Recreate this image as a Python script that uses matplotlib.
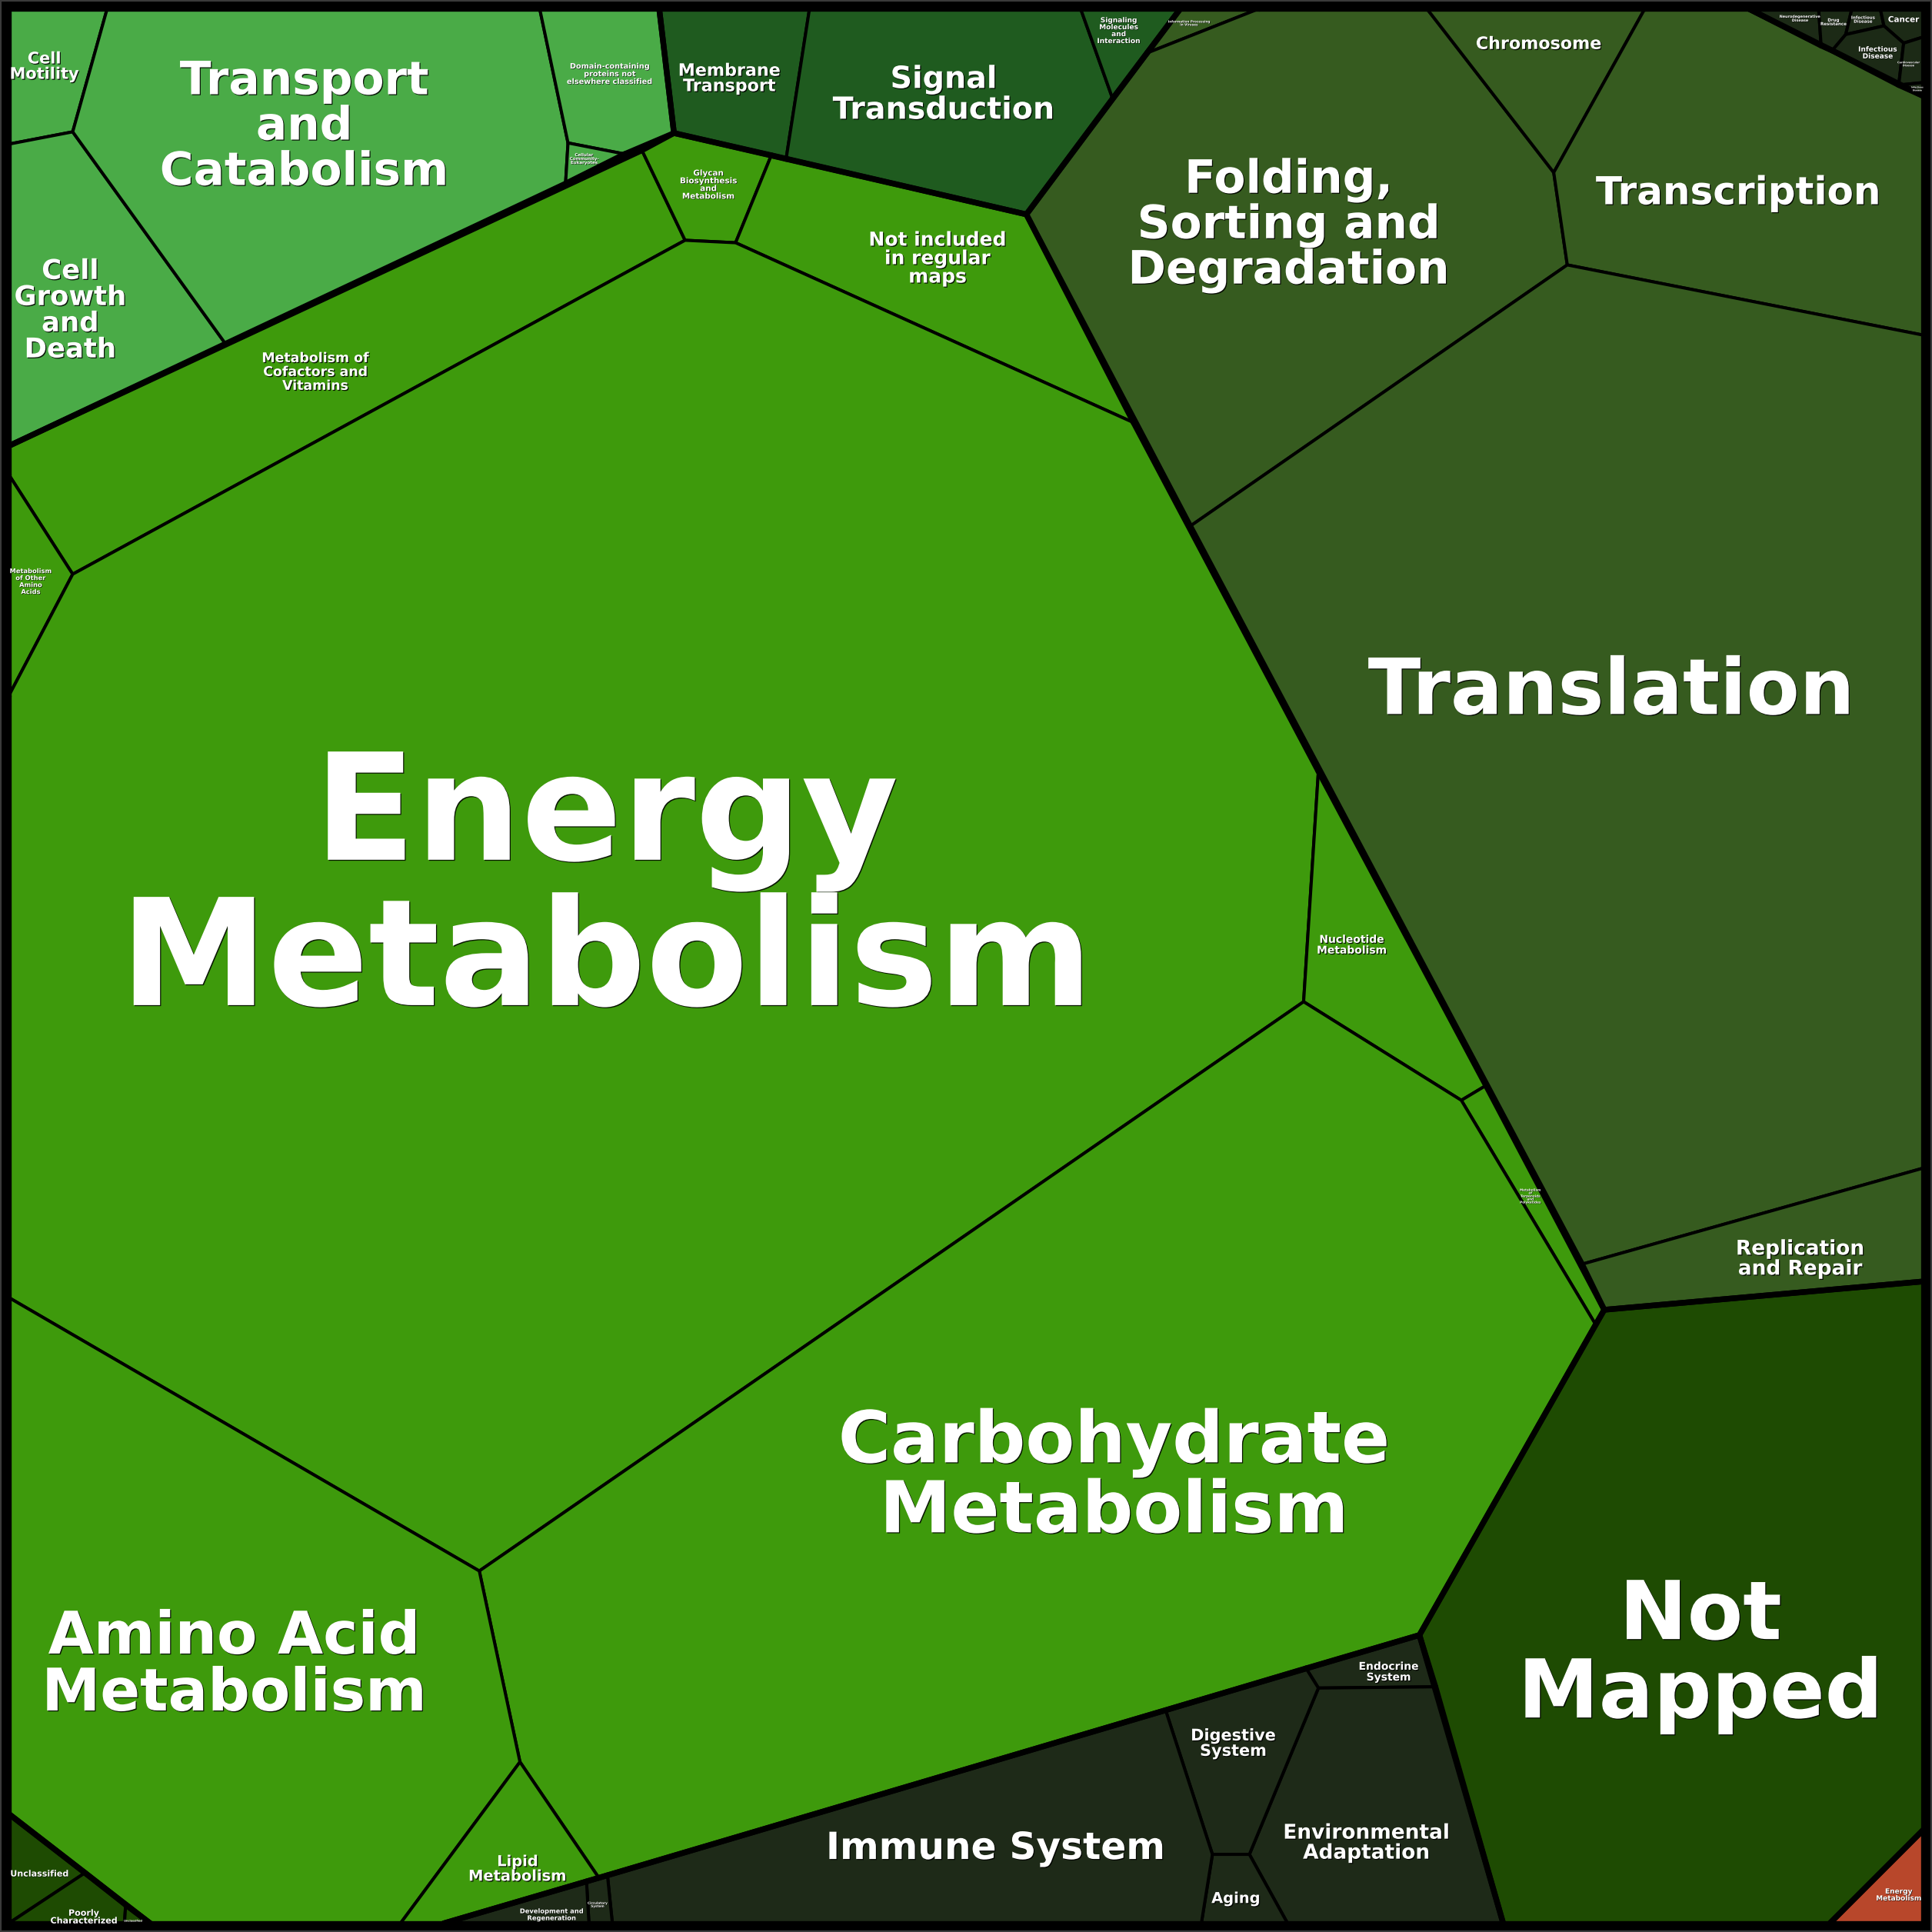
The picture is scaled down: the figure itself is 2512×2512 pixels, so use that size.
import matplotlib.pyplot as plt
import matplotlib.patheffects as pe
from matplotlib.patches import Polygon
from matplotlib.collections import LineCollection
from collections import Counter

# colours of the top-level groups
group_colors = {
    "met": "#3e9a0c",   # Metabolism
    "cell": "#4aab47",  # Cellular Processes
    "env": "#1f5b1f",   # Environmental Information Processing
    "gen": "#365b1f",   # Genetic Information Processing
    "nm": "#1e4b02",    # Not Mapped
    "org": "#1e2a18",   # Organismal Systems
    "hd": "#1c2a16",    # Human Diseases
    "unc": "#1e4b02",   # Unclassified
    "red": "#b8472b",   # Energy Metabolism (other)
}

# voronoi treemap vertices (canvas of 1568 units)
nodes = {
    "TL": (7, 7), "TR": (1561, 7), "BL": (7, 1561), "BR": (1561, 1561),
    "t1": (87, 7), "t2": (438, 7), "t3": (535, 7), "t4": (657, 7), "t5": (877, 7),
    "t6": (958, 7), "t7": (1022, 7), "t8": (1158, 7), "t9": (1335, 7), "t10": (1419, 7),
    "t11": (1476, 7), "t12": (1503, 7), "t13": (1526, 7),
    "l1": (7, 117), "l2": (7, 362), "l3": (7, 385), "l4": (7, 565), "l5": (7, 1053), "l6": (7, 1472),
    "r1": (1561, 30), "r2": (1561, 67), "r3": (1561, 78), "r4": (1561, 272), "r5": (1561, 948),
    "r6": (1561, 1040), "r7": (1561, 1485),
    "b2": (101, 1561), "b3": (122, 1561), "b4": (325, 1561), "b5": (360, 1561), "b6": (478, 1561),
    "b7": (497, 1561), "b8": (975, 1561), "b9": (1045, 1561), "b10": (1220, 1561), "b11": (1485, 1561),
    "u1": (69, 1520), "u2": (102, 1546),
    "c1": (59, 107), "c2": (183, 279), "c3": (461, 116), "c4": (459, 149), "c5": (507, 125), "c6": (547, 108),
    "m1": (521, 122), "m2": (556, 195), "m3": (597, 197), "m4": (626, 126), "m5": (920, 343),
    "m6": (1070, 626), "m7": (1058, 813), "m8": (1186, 893), "m9": (1206, 881), "m10": (1302, 1063),
    "m11": (1295, 1075), "m12": (1152, 1327), "m13": (486, 1524), "m14": (389, 1275), "m15": (422, 1430),
    "m16": (59, 466),
    "e1": (638, 129), "e2": (833, 174), "e3": (903, 80),
    "g1": (931, 43), "g2": (966, 427), "g3": (1284, 1026), "g4": (1261, 140), "g5": (1272, 215),
    "o1": (1060, 1354), "o2": (946, 1388), "o3": (493, 1522), "o4": (476, 1527), "o5": (1070, 1370),
    "o6": (1165, 1369), "o7": (1014, 1505), "o8": (984, 1505),
    "h1": (1478, 37), "h2": (1498, 28), "h3": (1487, 41), "h4": (1529, 21), "h5": (1545, 35), "h6": (1541, 69),
}

labels = [
    "Cell\nMotility", "Cell\nGrowth\nand\nDeath", "Transport\nand\nCatabolism",
    "Domain-containing\nproteins not\nelsewhere classified", "Cellular\nCommunity-\nEukaryotes",
    "Membrane\nTransport", "Signal\nTransduction", "Signaling\nMolecules\nand\nInteraction",
    "Metabolism of\nCofactors and\nVitamins", "Glycan\nBiosynthesis\nand\nMetabolism",
    "Not included\nin regular\nmaps", "Metabolism\nof Other\nAmino\nAcids", "Energy\nMetabolism",
    "Nucleotide\nMetabolism", "Metabolism\nof\nTerpenoids\nand\nPolyketides",
    "Carbohydrate\nMetabolism", "Amino Acid\nMetabolism", "Lipid\nMetabolism",
    "Information Processing\nin Viruses", "Folding,\nSorting and\nDegradation", "Chromosome",
    "Transcription", "Translation", "Replication\nand Repair",
    "Not\nMapped", "Energy\nMetabolism",
    "Endocrine\nSystem", "Environmental\nAdaptation", "Digestive\nSystem", "Aging",
    "Immune System", "Circulatory\nSystem", "Development and\nRegeneration",
    "Neurodegenerative\nDisease", "Drug\nResistance", "Infectious\nDisease", "Cancer",
    "Infectious\nDisease", "Cardiovascular\nDisease", "Infectious\nDisease",
    "Unclassified", "Poorly\nCharacterized", "Unclassified",
]

groups = [
    "cell", "cell", "cell", "cell", "cell",
    "env", "env", "env",
    "met", "met", "met", "met", "met", "met", "met", "met", "met", "met",
    "gen", "gen", "gen", "gen", "gen", "gen",
    "nm", "red",
    "org", "org", "org", "org", "org", "org", "org",
    "hd", "hd", "hd", "hd", "hd", "hd", "hd",
    "unc", "unc", "unc",
]

cells = [
    ["TL", "t1", "c1", "l1"],
    ["l1", "c1", "c2", "l2"],
    ["t1", "t2", "c3", "c4", "c2", "c1"],
    ["t2", "t3", "c6", "c5", "c3"],
    ["c3", "c5", "c4"],
    ["t3", "t4", "e1", "c6"],
    ["t4", "t5", "e3", "e2", "e1"],
    ["t5", "t6", "e3"],
    ["l2", "m1", "m2", "m16", "l3"],
    ["m1", "c6", "m4", "m3", "m2"],
    ["m4", "e2", "m5", "m3"],
    ["l3", "m16", "l4"],
    ["l4", "m16", "m2", "m3", "m5", "m6", "m7", "m14", "l5"],
    ["m6", "m9", "m8", "m7"],
    ["m8", "m9", "m10", "m11"],
    ["m7", "m8", "m11", "m12", "m13", "m15", "m14"],
    ["l5", "m14", "m15", "b4", "b3", "l6"],
    ["m15", "m13", "b5", "b4"],
    ["t6", "t7", "g1"],
    ["g1", "t7", "t8", "g4", "g5", "g2", "e2"],
    ["t8", "t9", "g4"],
    ["g4", "t9", "t10", "r3", "r4", "g5"],
    ["g2", "g5", "r4", "r5", "g3"],
    ["g3", "r5", "r6", "m10"],
    ["m10", "r6", "r7", "b11", "b10", "m12"],
    ["r7", "BR", "b11"],
    ["o1", "m12", "o6", "o5"],
    ["o5", "o6", "b10", "b9", "o7"],
    ["o2", "o1", "o5", "o7", "o8"],
    ["o8", "o7", "b9", "b8"],
    ["o3", "o2", "o8", "b8", "b7"],
    ["o4", "o3", "b7", "b6"],
    ["b5", "o4", "b6"],
    ["t10", "t11", "h1"],
    ["t11", "t12", "h2", "h3", "h1"],
    ["t12", "t13", "h4", "h2"],
    ["t13", "TR", "r1", "h5", "h4"],
    ["h2", "h4", "h5", "h6", "h3"],
    ["h5", "r1", "r2", "h6"],
    ["h6", "r2", "r3"],
    ["l6", "u1", "BL"],
    ["u1", "u2", "b2", "BL"],
    ["u2", "b3", "b2"],
]

# label placement and size (points)
label_xy = [
    (36, 54), (57, 252), (247, 103), (495, 60), (474, 129),
    (592, 64), (766, 77), (908, 25),
    (256, 302), (575, 150), (761, 210), (25, 472), (492, 724),
    (1097, 767), (1242, 971), (904, 1199), (190, 1352), (420, 1517),
    (965, 19), (1046, 183), (1249, 36), (1411, 157), (1308, 562), (1461, 1022),
    (1380, 1344), (1541, 1538),
    (1127, 1357), (1109, 1496), (1001, 1415), (1003, 1541), (808, 1500), (485, 1546), (448, 1554),
    (1461, 15), (1488, 18), (1512, 16), (1545, 16), (1524, 43), (1549, 52), (1556, 72),
    (32, 1521), (68, 1556), (108, 1559),
]
label_size = [
    15, 25.5, 43, 7, 4,
    16, 28.5, 6.5,
    12.5, 7.5, 18, 6, 139,
    10, 3, 67, 55, 14,
    3, 43, 16, 36, 72.5, 19,
    76, 6.5,
    10, 19, 15, 14, 35, 3, 6,
    3.5, 4, 4, 7.5, 6.5, 2.5, 2,
    8, 8, 2.5,
]

fig = plt.figure(figsize=(25.12, 25.12), dpi=100, facecolor="black")
ax = fig.add_axes([0, 0, 1, 1])
ax.set_facecolor("black")
ax.set_xlim(0, 1568)
ax.set_ylim(1568, 0)
ax.axis("off")

for grp, poly in zip(groups, cells):
    pts = [nodes[n] for n in poly]
    ax.add_patch(Polygon(pts, closed=True, facecolor=group_colors[grp],
                         edgecolor="black", linewidth=2.9, joinstyle="miter", zorder=1))

# edges that are not shared inside a group are group boundaries -> thick
edge_count = Counter()
for grp, poly in zip(groups, cells):
    for a, b in zip(poly, poly[1:] + poly[:1]):
        edge_count[(grp, frozenset((a, b)))] += 1
thick = []
for grp, poly in zip(groups, cells):
    for a, b in zip(poly, poly[1:] + poly[:1]):
        if edge_count[(grp, frozenset((a, b)))] == 1:
            thick.append([nodes[a], nodes[b]])
ax.add_collection(LineCollection(thick, colors="black", linewidths=5.3,
                                 capstyle="round", zorder=2))

for txt, (x, y), fs in zip(labels, label_xy, label_size):
    off = 0.9 if fs >= 10 else 0.45
    ax.text(x, y, txt, ha="center", va="center", multialignment="center",
            fontsize=fs, fontweight="bold", color="white", linespacing=1.0, zorder=5,
            path_effects=[pe.withSimplePatchShadow(offset=(off, -off),
                                                    shadow_rgbFace="black", alpha=0.85)])

fig.patches.append(plt.Rectangle((0, 0), 1, 1, transform=fig.transFigure, fill=False,
                                 edgecolor="#3a3a3a", linewidth=3))

fig.savefig("out.png", dpi=100, facecolor="black")
